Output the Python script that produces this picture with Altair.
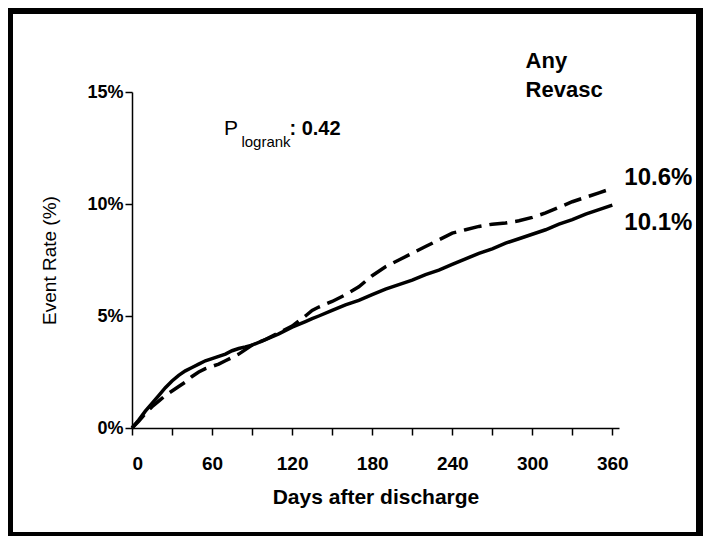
import altair as alt
import pandas as pd

# Kaplan-Meier style cumulative event rates (%)
days = [0, 5, 10, 15, 20, 25, 30, 35, 40, 45, 50, 55, 60, 65, 70, 75, 80, 85, 90,
        100, 110, 120, 130, 135, 140, 150, 160, 170, 180, 190, 200, 210, 220, 230,
        240, 250, 260, 270, 280, 290, 300, 310, 320, 330, 340, 350, 360]
solid_pct = [0, 0.35, 0.75, 1.1, 1.45, 1.8, 2.1, 2.35, 2.55, 2.7, 2.85, 3.0, 3.1, 3.2,
             3.3, 3.45, 3.55, 3.62, 3.7, 3.95, 4.2, 4.5, 4.75, 4.88, 5.0, 5.25, 5.5,
             5.7, 5.95, 6.2, 6.4, 6.6, 6.85, 7.05, 7.3, 7.55, 7.8, 8.0, 8.25, 8.45,
             8.65, 8.85, 9.1, 9.3, 9.55, 9.75, 9.95]
dashed_pct = [0, 0.3, 0.65, 0.95, 1.2, 1.45, 1.65, 1.85, 2.05, 2.3, 2.5, 2.65, 2.75,
              2.85, 3.0, 3.15, 3.3, 3.5, 3.7, 3.95, 4.25, 4.55, 5.0, 5.25, 5.4, 5.65,
              5.95, 6.3, 6.8, 7.2, 7.5, 7.8, 8.1, 8.4, 8.7, 8.85, 9.0, 9.1, 9.15, 9.25,
              9.4, 9.6, 9.85, 10.1, 10.3, 10.5, 10.7]

x_ticks = [0, 30, 60, 90, 120, 150, 180, 210, 240, 270, 300, 330, 360]
y_ticks = [0, 0.05, 0.10, 0.15]

end_labels = ["10.6%", "10.1%"]
end_label_day = [369, 369]
end_label_y = [0.1085, 0.0885]

title_lines = ["Any", "Revasc"]
title_day = [295, 295]
title_y = [0.1608, 0.1478]

p_label = {"P": (69, 0.1308), "logrank": (82, 0.1255), ": 0.42": (118, 0.1308)}

FONT = "Liberation Sans"

df_solid = pd.DataFrame({"day": days, "rate": [v / 100 for v in solid_pct]})
df_dashed = pd.DataFrame({"day": days, "rate": [v / 100 for v in dashed_pct]})

xscale = alt.Scale(domain=[0, 365], nice=False)
yscale = alt.Scale(domain=[0, 0.15], nice=False)

x_axis = alt.Axis(values=x_ticks, labelExpr="datum.value % 60 == 0 ? datum.label : ''",
                  format="d", tickSize=7, tickWidth=1.5, domainWidth=1.5,
                  domainColor="black", tickColor="black", labelColor="black",
                  labelFont=FONT, labelFontSize=19, labelFontWeight="bold",
                  labelPadding=19, grid=False, title="Days after discharge",
                  titleFont=FONT, titleFontSize=21, titleFontWeight="bold",
                  titleColor="black", titlePadding=13)
y_axis = alt.Axis(values=y_ticks, format=".0%", tickSize=7, tickWidth=1.5,
                  domainWidth=1.5, domainColor="black", tickColor="black",
                  labelColor="black", labelFont=FONT, labelFontSize=18,
                  labelFontWeight="bold", labelPadding=2, grid=False,
                  title="Event Rate (%)", titleFont=FONT, titleFontSize=19,
                  titleFontWeight="normal", titleColor="black", titlePadding=27)

solid = alt.Chart(df_solid).mark_line(color="black", strokeWidth=3.5).encode(
    x=alt.X("day:Q", scale=xscale, axis=x_axis),
    y=alt.Y("rate:Q", scale=yscale, axis=y_axis),
)
dashed = alt.Chart(df_dashed).mark_line(color="black", strokeWidth=3.5,
                                        strokeDash=[18, 8]).encode(
    x=alt.X("day:Q", scale=xscale),
    y=alt.Y("rate:Q", scale=yscale),
)

df_end = pd.DataFrame({"t": end_labels, "day": end_label_day, "rate": end_label_y})
end_text = alt.Chart(df_end).mark_text(align="left", baseline="alphabetic", font=FONT,
                                       fontSize=24, fontWeight="bold",
                                       color="black").encode(
    x=alt.X("day:Q", scale=xscale), y=alt.Y("rate:Q", scale=yscale), text="t:N")

df_title = pd.DataFrame({"t": title_lines, "day": title_day, "rate": title_y})
title_text = alt.Chart(df_title).mark_text(align="left", baseline="alphabetic", font=FONT,
                                           fontSize=22, fontWeight="bold",
                                           color="black").encode(
    x=alt.X("day:Q", scale=xscale), y=alt.Y("rate:Q", scale=yscale), text="t:N")

p_layers = []
for txt, (d, r), size, weight in [("P", p_label["P"], 21, "normal"),
                                  ("logrank", p_label["logrank"], 15, "normal"),
                                  (": 0.42", p_label[": 0.42"], 20, "bold")]:
    p_layers.append(
        alt.Chart(pd.DataFrame({"t": [txt], "day": [d], "rate": [r]}))
        .mark_text(align="left", baseline="alphabetic", font=FONT, fontSize=size,
                   fontWeight=weight, color="black")
        .encode(x=alt.X("day:Q", scale=xscale), y=alt.Y("rate:Q", scale=yscale),
                text="t:N")
    )

# black picture frame around the whole figure
frame_df = pd.DataFrame({"k": [0]})
def band(x, x2, y, y2):
    return alt.Chart(frame_df).mark_rect(color="black").encode(
        x=alt.value(x), x2=alt.value(x2), y=alt.value(y), y2=alt.value(y2))

frame = [band(-124, 571, -84, -78), band(-124, -119, -84, 444),
         band(564, 571, -84, 444), band(-124, 571, 440, 444)]

chart = alt.layer(*frame, solid, dashed, end_text, title_text, *p_layers).properties(
    width=487, height=336,
    padding={"left": 124, "top": 84, "right": 84, "bottom": 108},
    autosize=alt.AutoSizeParams(type="none"),
    background="white",
).configure_view(stroke=None)

chart.save("out.html", embed_options={"renderer": "svg", "actions": False})
